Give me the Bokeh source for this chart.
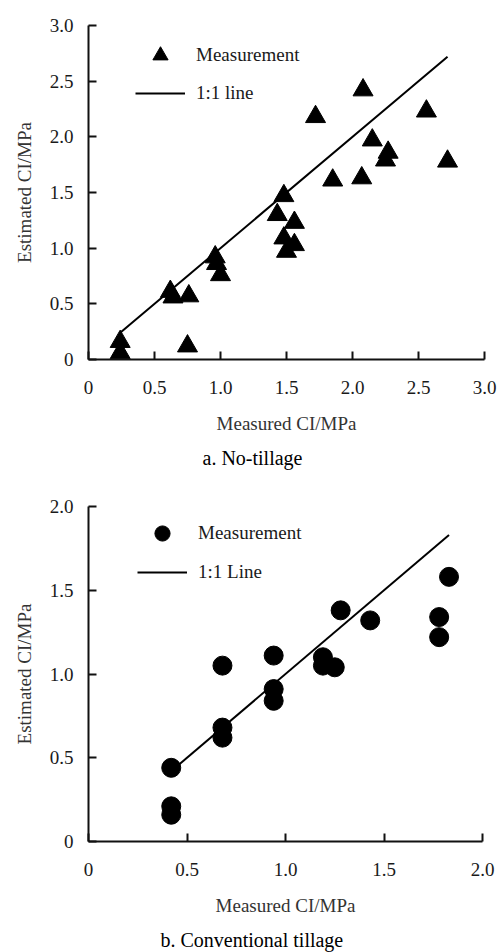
from bokeh.plotting import figure
from bokeh.layouts import column
from bokeh.models import (Range1d, FixedTicker, Legend, LegendItem, Title,
                          ColumnDataSource, PrintfTickFormatter)
from bokeh.embed import file_html
from bokeh.resources import INLINE

# --- data: measured vs. estimated cone index (MPa) ---
measured_nt = [0.24, 0.24, 0.62, 0.64, 0.76, 0.75, 0.96, 0.97, 1.00,
               1.48, 1.43, 1.56, 1.48, 1.56, 1.50, 1.72, 1.85, 2.07,
               2.08, 2.15, 2.27, 2.25, 2.56, 2.72]
estimated_nt = [0.16, 0.06, 0.61, 0.56, 0.57, 0.12, 0.92, 0.86, 0.76,
                1.47, 1.30, 1.23, 1.09, 1.03, 0.97, 2.18, 1.61, 1.63,
                2.42, 1.97, 1.86, 1.79, 2.23, 1.78]

measured_ct = [0.42, 0.42, 0.42, 0.68, 0.68, 0.68, 0.94, 0.94, 0.94,
               1.19, 1.19, 1.25, 1.28, 1.43, 1.78, 1.78, 1.83]
estimated_ct = [0.44, 0.21, 0.16, 0.68, 0.62, 1.05, 1.11, 0.91, 0.84,
                1.10, 1.05, 1.04, 1.38, 1.32, 1.34, 1.22, 1.58]

ticks_nt = [0, 0.5, 1.0, 1.5, 2.0, 2.5, 3.0]
ticks_ct = [0, 0.5, 1.0, 1.5, 2.0]

x_title = "Measured CI/MPa"
y_title = "Estimated CI/MPa"

SERIF = "serif"


def style_axes(p, ticks):
    for ax in (p.xaxis[0], p.yaxis[0]):
        ax.ticker = FixedTicker(ticks=ticks)
        ax.formatter = PrintfTickFormatter(format="%.1f")
        ax.major_label_overrides = {0: "0"}
        ax.axis_line_width = 2
        ax.axis_line_color = "#111111"
        ax.major_tick_line_width = 2
        ax.major_tick_line_color = "#111111"
        ax.major_tick_in = 8
        ax.major_tick_out = 0
        ax.minor_tick_line_color = None
        ax.major_label_text_font = SERIF
        ax.major_label_text_font_size = "19px"
        ax.major_label_text_color = "#1a1a1a"
        ax.axis_label_text_font = SERIF
        ax.axis_label_text_font_size = "19px"
        ax.axis_label_text_font_style = "normal"
        ax.axis_label_text_color = "#333333"
    p.xaxis[0].major_label_standoff = 21
    p.xaxis[0].axis_label_standoff = 16
    p.yaxis[0].major_label_standoff = 15
    p.yaxis[0].axis_label_standoff = 12
    p.xaxis[0].axis_label = x_title
    p.yaxis[0].axis_label = y_title
    p.grid.visible = False
    p.outline_line_color = None


def make_panel(mx, my, ticks, marker, msize, line_label, caption,
               frame_w, frame_h, top, bottom, right, leg_loc, leg_spacing,
               cap_offset):
    lim = ticks[-1]
    p = figure(frame_width=frame_w, frame_height=frame_h,
               min_border_left=88, min_border_right=right,
               min_border_top=top, min_border_bottom=bottom,
               x_range=Range1d(0, lim), y_range=Range1d(0, lim),
               toolbar_location=None, output_backend="svg")
    style_axes(p, ticks)

    src = ColumnDataSource(dict(x=mx, y=my))
    pts = p.scatter("x", "y", source=src, marker=marker, size=msize,
                    fill_color="black", line_color="black")
    lo, hi = min(mx), max(mx)
    one = p.line([lo, hi], [lo, hi], line_color="black", line_width=2)

    legend = Legend(items=[LegendItem(label="Measurement", renderers=[pts]),
                           LegendItem(label=line_label, renderers=[one])],
                    location=leg_loc, glyph_width=50, glyph_height=38,
                    spacing=leg_spacing, padding=0, margin=0,
                    label_standoff=11, label_text_font=SERIF,
                    label_text_font_size="19px", label_text_color="#1a1a1a",
                    border_line_color=None, background_fill_alpha=0)
    p.add_layout(legend)

    cap = Title(text=caption, align="left", offset=cap_offset,
                text_font=SERIF, text_font_size="20px",
                text_font_style="normal", text_color="#000000", standoff=16)
    p.add_layout(cap, "below")
    return p


pa = make_panel(measured_nt, estimated_nt, ticks_nt, "triangle", 20,
                "1:1 line", "a. No-tillage",
                396, 334, 25, 121, 16, (47, 247), -2, 114)
pb = make_panel(measured_ct, estimated_ct, ticks_ct, "circle", 19,
                "1:1 Line", "b. Conventional tillage",
                394, 335, 26, 111, 18, (49, 250), 1, 72)

layout = column(pa, pb, spacing=0)
open("out.html", "w").write(file_html(layout, INLINE))
